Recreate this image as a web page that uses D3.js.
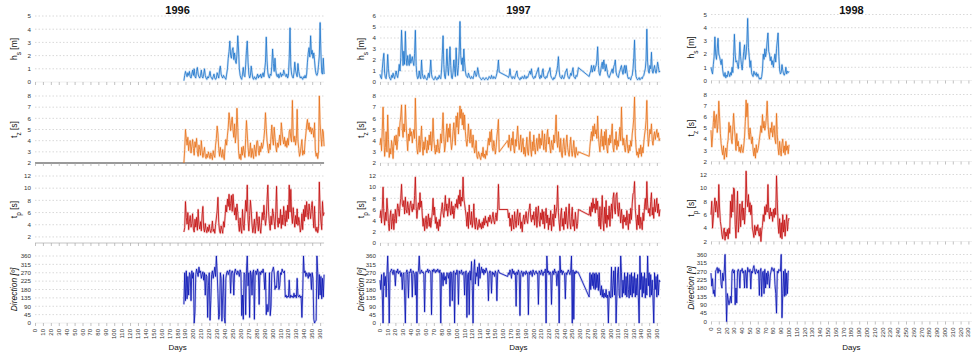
<!DOCTYPE html>
<html><head><meta charset="utf-8">
<script src="https://cdn.jsdelivr.net/npm/d3@7"></script>
<style>body{margin:0;background:#fff;} svg{display:block;font-family:"Liberation Sans",Arial,sans-serif;}</style>
</head><body><svg id="c" width="972" height="360"></svg>
<script>
const N = null;
const years = ["1996","1997","1998"];
const startDays = [188, 0, 0];
const dayTicks = d3.range(0, 361, 10);

const hs1996 = [
0.1,0.5,0.8,0.6,0.4,0.7,0.5,0.8,0.4,0.3,
0.6,0.9,0.5,1.0,0.4,0.3,0.8,1.1,0.6,0.4,
0.3,0.5,0.9,0.4,0.3,0.6,1.0,0.5,0.3,0.2,
0.4,0.3,0.5,0.8,0.4,0.3,0.2,0.4,0.6,0.3,
0.2,0.3,0.7,0.5,0.3,0.9,1.2,0.6,0.4,0.3,
0.5,0.4,0.3,0.2,0.6,1.0,1.8,2.3,3.1,2.0,
1.8,2.4,2.6,1.7,2.2,1.6,1.4,2.1,3.5,2.5,
1.0,0.5,0.3,0.2,0.6,1.1,0.5,0.4,1.3,2.4,
3.1,1.5,0.6,0.3,0.5,1.2,0.7,0.3,0.2,0.4,
0.3,0.2,0.4,0.6,0.3,0.5,0.4,0.6,0.3,0.5,
0.7,0.4,0.9,1.5,3.4,1.6,0.7,0.4,0.3,0.6,
0.5,1.2,2.5,1.4,0.8,1.8,0.9,0.5,0.4,0.6,
0.3,0.5,0.7,0.4,0.6,0.5,0.9,0.7,0.5,0.4,
0.6,0.3,0.5,1.8,4.1,1.2,0.6,0.4,0.3,0.7,
1.5,0.9,0.6,0.4,1.4,0.8,0.5,0.3,0.4,0.3,
0.2,0.4,0.3,0.5,0.3,0.6,1.5,2.2,2.6,1.9,
3.5,2.1,2.4,1.8,2.2,1.6,0.9,0.6,0.5,0.7,
1.3,2.0,4.5,2.2,0.7,0.6,1.8,0.6];
const tz1996 = [
2.0,3.2,5.0,4.2,3.6,4.3,3.1,3.8,4.0,2.9,
3.5,4.1,3.3,2.7,3.9,3.4,4.2,3.0,2.6,3.6,
3.2,2.7,4.0,3.1,2.5,2.9,3.4,2.6,2.4,2.8,
2.5,3.0,2.7,2.4,2.9,2.6,2.3,3.1,2.7,2.5,
3.6,4.2,5.3,4.6,3.3,2.6,3.4,2.8,2.5,3.2,
2.6,2.3,3.5,4.1,3.6,4.5,5.2,6.5,5.8,4.9,
5.6,6.1,5.0,4.3,5.5,3.8,4.6,6.9,5.2,3.1,
2.4,2.8,2.3,3.4,2.7,3.5,3.0,2.5,4.2,5.8,
4.6,3.4,2.6,3.0,3.8,2.5,3.3,2.8,2.4,3.6,
3.2,2.6,3.9,4.0,3.1,2.7,3.5,3.0,3.8,3.3,
3.6,4.2,5.0,6.5,5.1,4.0,3.3,2.9,3.7,3.2,
4.4,5.4,4.1,3.6,5.2,4.3,3.5,3.0,3.8,3.4,
3.9,4.5,3.6,5.6,4.8,4.1,3.7,4.3,3.5,4.0,
3.4,4.2,3.6,4.8,5.0,4.2,3.9,7.6,4.5,3.9,
4.4,3.6,4.2,6.8,4.0,3.3,2.6,2.9,3.5,4.1,
2.7,3.1,2.8,3.9,4.6,5.4,5.9,5.0,5.6,4.8,
5.2,4.6,5.1,4.9,4.3,5.6,3.1,2.6,2.9,2.4,
3.0,8.0,5.5,4.4,3.5,5.0,4.8,3.5];
const tp1996 = [
2.8,3.5,7.8,5.2,4.1,6.0,3.2,4.6,5.5,3.6,
4.2,5.8,3.3,2.8,4.9,3.6,5.2,3.1,6.5,4.0,
3.3,4.5,3.0,5.6,7.0,3.4,2.8,4.2,3.2,2.7,
3.6,2.9,4.0,3.1,2.7,3.4,4.6,2.9,3.3,2.6,
4.0,5.1,6.3,8.5,4.4,3.0,2.6,3.8,3.2,2.6,
4.5,3.6,5.4,7.2,6.1,8.2,7.0,9.0,6.4,7.5,
8.8,6.2,9.0,7.1,5.6,6.8,4.8,7.4,6.0,4.2,
2.9,5.1,3.3,2.6,6.5,4.0,3.1,5.6,8.0,6.2,
10.5,4.8,3.0,5.5,8.0,6.4,4.1,2.7,3.6,4.9,
2.6,3.9,6.1,4.5,3.0,5.3,3.6,2.6,4.4,6.0,
4.8,7.2,5.5,3.9,5.0,8.1,10.5,6.0,4.2,3.1,
5.4,4.0,6.6,5.8,4.5,3.3,6.2,10.3,4.8,3.6,
5.1,4.2,6.5,3.4,5.6,4.0,7.0,5.2,3.8,6.3,
4.5,7.2,5.0,10.5,6.1,9.8,5.6,4.2,6.8,5.0,
3.6,5.5,4.1,6.6,3.9,5.2,4.4,2.8,3.5,5.8,
3.2,6.5,4.6,7.2,5.3,7.8,6.0,4.9,7.4,6.2,
5.0,6.8,7.8,5.4,3.5,7.0,3.3,2.9,3.6,2.7,
3.4,11.0,6.5,4.6,3.2,7.8,5.5,6.0];
const dir1996 = [
100,270,120,280,130,250,150,270,260,120,
280,240,270,0,60,260,290,270,250,300,
270,280,240,260,275,230,270,150,260,250,
30,200,270,15,120,260,280,240,270,300,
250,360,270,160,20,45,270,240,10,150,
260,30,0,240,270,280,260,275,285,160,
270,280,265,150,275,290,270,260,280,270,
250,285,270,40,150,20,270,260,45,280,
360,200,270,30,280,260,150,270,285,20,
270,280,260,290,270,100,275,260,280,270,
290,265,180,270,45,100,60,80,270,40,
90,270,285,300,270,180,200,190,270,280,
180,200,270,260,290,275,270,280,140,150,
135,145,140,230,135,150,140,145,135,160,
140,150,135,240,145,140,150,135,145,30,
160,360,270,280,250,270,260,240,270,250,
265,180,270,240,20,0,10,15,360,270,
130,260,150,250,130,240,140,260];

const hs1997 = [
0.7,0.4,0.3,1.2,2.0,2.6,0.8,0.4,0.3,1.0,
2.5,1.2,0.5,0.3,0.2,0.6,0.4,0.8,0.5,0.3,
0.7,1.0,0.6,0.4,0.9,1.6,1.0,2.2,4.7,3.0,
1.5,2.8,1.6,4.6,2.2,1.5,2.4,1.8,1.5,2.5,
1.7,2.0,2.3,1.8,1.5,2.6,4.7,1.5,0.6,0.3,
0.4,1.0,0.5,0.3,2.0,0.8,0.4,0.3,0.6,0.4,
0.3,0.2,0.5,0.8,0.4,1.0,2.0,0.7,0.4,0.3,
0.2,0.3,0.5,0.3,0.2,0.4,0.3,0.6,0.4,0.3,
1.0,2.5,4.2,1.6,0.5,0.3,1.2,3.0,1.4,0.6,
1.8,3.2,1.5,0.4,0.3,0.9,2.0,1.2,0.5,3.1,
1.3,0.6,1.5,2.8,5.5,2.4,1.6,2.2,1.0,3.0,
1.8,1.0,0.6,0.5,0.4,0.8,0.6,0.4,0.3,0.5,
0.4,0.3,0.6,1.0,0.8,0.5,0.7,1.3,0.9,0.5,
0.4,0.3,0.2,0.3,0.4,0.3,0.2,0.3,0.4,0.3,
0.2,0.3,0.5,0.4,0.3,0.6,0.4,0.3,0.5,0.4,
0.3,0.5,0.8,1.2,2.0,0.9,
N,N,N,N,N,N,N,N,N,N,
0.5,0.4,0.6,1.2,
0.6,0.4,0.3,0.5,0.4,0.3,0.6,0.8,1.0,0.5,
0.4,0.3,0.2,0.4,0.3,0.5,0.4,0.3,0.6,0.4,
0.3,0.5,0.4,0.6,0.8,1.0,0.7,1.2,0.6,0.4,
0.3,0.5,0.4,0.7,0.9,1.1,1.3,0.5,0.3,0.6,
0.4,0.9,1.2,0.5,0.4,0.3,0.5,0.4,0.7,0.9,
1.0,1.3,0.6,0.4,0.3,0.2,0.4,0.3,0.5,0.7,
1.0,1.5,2.3,1.0,0.5,0.4,0.3,0.6,0.4,0.3,
0.5,0.9,1.0,1.2,0.6,0.4,0.3,0.5,0.8,0.6,
1.0,1.3,0.5,0.4,0.3,0.6,0.5,0.8,1.3,
N,N,N,N,N,N,N,N,N,N,N,N,N,
0.5,0.8,1.0,1.5,0.9,1.2,1.5,1.0,
1.3,1.5,2.0,3.2,1.5,0.8,0.6,1.0,1.5,1.8,
1.2,2.0,1.5,1.0,1.6,1.2,0.7,0.5,0.4,0.6,
0.8,1.0,1.2,0.8,1.4,1.6,2.0,0.9,0.6,0.5,
0.4,0.8,1.0,1.3,1.5,1.0,0.7,1.2,1.5,0.8,
1.5,1.0,0.5,0.3,0.4,0.3,0.2,0.5,0.6,1.2,
2.2,3.8,1.2,0.5,0.3,0.2,0.3,0.4,0.2,0.3,
0.4,0.3,0.5,0.6,0.9,1.2,2.0,4.8,1.8,1.0,
0.8,1.5,1.2,2.7,1.0,0.8,1.2,1.5,1.0,0.8,
1.2,1.8,1.4,0.9,1.0];
const tz1997 = [
3.6,4.2,3.1,5.0,7.0,4.5,2.6,3.4,4.8,3.0,
6.3,4.1,2.5,3.3,2.8,4.0,3.5,2.4,3.8,4.4,
3.6,4.5,3.2,4.0,5.2,4.4,5.6,6.2,7.2,5.0,
4.3,5.5,4.8,7.2,5.4,4.2,3.1,4.6,4.0,5.1,
4.4,4.8,3.8,4.5,5.0,4.2,7.8,5.0,3.3,2.8,
3.6,4.4,3.0,4.1,5.3,3.5,2.7,3.9,3.2,4.3,
3.4,2.9,4.0,3.2,4.5,3.6,4.8,3.1,4.0,6.0,
4.2,3.3,2.8,3.6,3.0,4.1,3.4,2.9,3.5,4.6,
3.8,5.0,6.5,4.4,3.0,3.6,4.6,5.5,3.9,5.1,
4.3,5.5,4.0,3.2,3.8,4.8,5.6,4.5,3.6,6.2,
5.2,6.5,4.6,5.8,7.1,6.0,6.8,5.4,6.5,5.0,
6.3,4.8,4.0,3.5,4.2,5.5,4.4,3.8,5.0,4.1,
3.4,4.5,3.6,2.9,3.3,4.0,2.6,2.4,3.0,2.8,
2.5,2.3,2.9,2.6,3.4,2.5,2.8,2.4,3.1,2.7,
3.5,4.2,3.6,4.8,3.9,5.0,3.4,3.1,4.0,3.5,
2.8,3.4,4.4,5.0,5.9,3.0,
N,N,N,N,N,N,N,N,N,N,
4.0,3.4,4.5,3.6,
3.1,4.2,3.6,4.8,3.3,2.9,4.1,3.5,4.4,5.3,
4.0,3.2,3.8,4.5,3.0,3.6,4.2,2.8,3.4,2.6,
3.5,4.3,3.0,2.7,3.8,4.8,3.2,2.6,3.9,3.1,
4.5,3.4,2.8,3.6,4.2,3.1,3.8,4.6,3.3,4.2,
3.6,4.9,4.0,3.2,4.6,3.5,3.0,4.4,5.0,3.7,
4.3,3.4,2.9,4.0,3.6,3.2,4.5,3.8,4.8,6.3,
4.0,3.4,4.8,3.6,3.0,4.2,2.8,2.5,3.5,4.2,
3.2,2.7,3.8,4.5,3.4,2.9,2.6,3.6,4.3,3.1,
2.6,3.3,4.0,2.8,2.5,3.4,2.9,2.7,3.0,
N,N,N,N,N,N,N,N,N,N,N,N,N,
2.6,3.5,4.2,4.8,4.0,5.3,4.4,5.5,
4.6,5.0,4.2,6.2,4.5,3.6,3.0,4.2,5.0,3.5,
4.4,3.2,4.8,3.6,5.0,3.3,2.9,4.2,3.6,4.5,
3.8,4.6,5.5,3.4,3.0,4.1,3.6,4.8,3.2,4.0,
3.5,4.4,5.2,4.0,7.0,4.5,3.6,4.2,3.4,3.0,
3.8,4.5,3.3,2.9,3.6,3.1,4.0,3.5,4.6,5.2,
6.0,7.9,4.5,3.4,2.7,3.0,2.5,3.3,2.8,3.6,
2.6,3.4,2.9,3.8,4.5,5.0,5.8,7.6,4.8,3.5,
4.2,5.0,4.6,5.5,4.0,3.6,4.4,4.8,4.1,4.6,
5.0,4.3,4.7,4.0,4.2];
const tp1997 = [
4.5,5.8,3.6,6.2,10.0,5.0,3.2,5.5,4.0,8.0,
6.0,3.5,2.2,4.6,5.8,2.5,3.8,5.2,2.4,4.4,
6.0,3.6,5.4,7.0,6.2,4.8,6.6,8.0,10.5,7.0,
6.5,7.6,5.2,8.2,6.0,5.4,7.4,6.3,5.0,6.8,
7.5,6.2,5.6,7.0,6.0,8.5,11.8,6.5,4.4,6.0,
7.2,6.0,9.0,6.4,7.5,5.0,3.0,4.4,2.2,3.6,
4.8,2.6,3.9,5.2,3.0,4.5,2.8,4.0,5.5,8.0,
5.0,6.4,3.5,4.6,2.6,3.8,2.2,4.2,3.0,5.0,
6.0,7.2,5.4,4.6,6.5,8.5,5.8,7.0,4.8,6.2,
8.0,6.0,5.0,7.4,5.2,6.6,4.4,5.8,7.0,6.4,
7.8,6.2,8.5,7.0,9.5,6.6,8.2,7.5,11.8,8.0,
7.0,6.0,4.8,3.0,5.5,2.6,6.8,4.2,3.3,5.6,
2.8,4.0,7.0,3.4,2.5,4.5,3.6,2.4,3.0,4.2,
2.8,3.5,2.5,3.8,2.7,4.4,3.2,4.8,3.6,4.0,
3.0,4.6,3.8,5.0,4.2,3.5,4.6,5.5,4.0,3.4,
4.6,5.4,4.0,6.0,10.5,6.0,
N,N,N,N,N,N,N,N,N,N,
6.0,4.5,5.4,3.0,
4.4,2.2,5.0,3.6,2.5,5.6,4.0,2.8,4.8,6.0,
3.2,4.6,5.4,2.6,3.8,2.0,4.2,5.0,3.4,4.4,
5.6,4.0,3.5,5.2,6.0,7.0,4.6,3.8,5.0,4.2,
5.6,3.2,4.6,6.4,2.8,5.0,6.6,4.0,3.0,5.4,
4.2,6.0,3.4,5.6,2.6,4.8,6.2,3.6,5.0,2.4,
4.5,3.2,5.8,2.2,4.0,5.2,3.0,6.8,4.5,5.5,
6.5,10.3,5.4,3.6,2.2,5.0,6.2,3.0,4.4,2.4,
5.6,3.4,6.4,4.0,2.6,5.2,7.0,3.6,2.5,4.8,
6.4,3.0,4.2,2.2,5.5,4.0,2.6,3.5,6.0,
N,N,N,N,N,N,N,N,N,N,N,N,N,
5.0,6.5,4.8,7.2,5.6,8.0,6.2,7.0,
5.4,8.0,6.0,7.5,4.6,3.0,6.5,2.5,5.0,8.5,
4.0,2.2,6.4,3.5,7.6,2.8,5.0,4.2,6.6,3.0,
5.6,7.0,4.4,8.0,9.0,6.0,5.2,8.6,9.0,6.0,
4.8,7.2,5.6,3.6,6.0,4.4,2.6,5.0,3.8,4.6,
3.2,5.8,4.0,2.4,5.2,3.5,6.2,4.2,7.0,8.8,
9.0,11.0,6.0,4.4,2.4,5.0,3.2,6.8,2.6,4.6,
3.6,2.4,5.4,4.0,6.6,8.0,6.0,11.0,7.0,5.4,
6.2,4.8,7.4,9.0,5.0,6.4,4.4,7.8,5.6,6.6,
8.0,5.4,7.0,4.8,6.0];
const dir1997 = [
230,180,260,150,0,270,200,250,140,260,
360,220,0,270,280,290,275,260,285,270,
200,280,270,290,265,275,280,250,270,180,
260,270,150,0,270,285,260,135,275,270,
290,265,140,280,270,260,150,275,0,270,
280,360,265,270,285,270,275,260,60,270,
280,275,290,270,285,280,270,45,285,275,
290,280,270,285,275,290,280,270,285,0,
270,260,200,270,230,250,210,270,260,240,
270,90,275,265,120,270,280,0,270,260,
285,270,100,280,265,270,285,260,270,275,
150,270,280,30,260,270,45,280,230,330,
200,0,280,340,210,270,250,300,200,320,
240,280,300,270,290,260,285,270,295,280,
270,120,265,280,270,160,275,260,270,250,
280,265,120,270,285,270,
N,N,N,N,N,N,N,N,N,N,
250,270,260,285,
270,240,290,265,280,260,270,90,275,260,
285,270,40,260,280,270,250,275,270,260,
280,265,270,45,275,260,280,270,250,285,
270,260,275,280,265,270,100,280,270,260,
285,270,255,275,270,290,0,360,270,280,
260,275,270,100,265,280,260,290,270,275,
200,265,280,0,360,270,285,260,280,270,
265,130,270,260,275,285,270,260,280,360,
0,285,20,275,265,280,270,275,270,
N,N,N,N,N,N,N,N,N,N,N,N,N,
140,270,180,260,200,270,185,265,
180,270,190,260,175,270,185,150,200,140,
180,135,160,140,180,135,150,0,170,140,
135,300,140,200,280,150,300,0,140,270,
300,150,135,360,270,140,230,160,270,150,
250,140,270,180,135,260,150,270,140,250,
160,270,140,240,150,260,135,0,360,180,
270,140,250,160,270,135,240,150,360,200,
270,140,260,150,230,135,0,270,180,250,
140,260,150,230,220];

const hs1998 = [
1.0,0.7,0.5,1.2,1.8,3.3,2.0,1.6,2.4,3.2,
2.0,1.8,1.5,1.2,1.6,0.8,0.4,0.3,0.6,0.2,
0.4,0.3,0.7,0.5,0.3,0.6,0.4,1.0,0.6,1.8,
3.5,2.0,1.4,1.5,1.2,0.9,1.6,2.9,1.8,1.2,
0.8,1.5,2.2,2.7,1.6,2.0,2.8,4.7,2.5,1.8,
1.0,1.5,0.6,0.4,0.3,0.7,0.5,0.4,0.6,0.3,
0.5,0.3,0.1,0.2,0.1,0.3,0.8,2.0,1.6,2.4,
1.8,2.2,3.0,3.6,2.2,2.0,1.5,1.8,1.2,1.5,
1.0,1.6,2.0,1.4,2.4,3.0,3.6,1.8,0.8,0.5,
0.6,1.2,0.8,0.5,0.4,0.6,1.0,0.5,0.7,0.6,
0.7];
const tz1998 = [
4.8,3.3,4.2,5.5,6.5,5.0,5.8,6.2,4.6,5.4,
7.4,6.0,4.5,3.6,3.0,2.6,3.4,2.2,2.8,3.2,
2.4,3.5,4.0,5.5,4.6,5.2,4.0,3.6,5.0,6.3,
5.0,4.2,3.0,4.5,3.4,3.8,2.9,3.3,2.8,3.5,
3.0,2.8,3.4,4.2,5.6,7.5,6.0,7.2,4.6,4.0,
5.0,4.4,3.6,4.2,3.0,2.5,3.2,2.3,3.5,2.8,
3.0,3.4,4.0,4.5,5.2,4.6,6.2,5.0,5.6,4.8,
5.2,6.0,7.4,5.5,4.4,4.0,5.0,4.6,5.5,4.2,
4.8,5.2,4.0,3.6,6.3,4.4,3.2,2.6,3.8,3.0,
2.5,3.6,4.0,2.8,3.4,2.6,3.8,3.0,3.4,2.7,
3.5];
const tp1998 = [
6.0,8.0,4.0,5.5,7.2,8.5,6.4,8.0,7.0,5.6,
10.5,7.0,5.0,4.2,3.0,2.4,3.6,4.0,2.2,3.4,
2.8,3.8,2.4,4.0,3.2,8.0,5.6,9.0,6.4,10.0,
9.8,4.5,2.5,6.0,9.5,3.4,5.0,7.6,4.2,6.4,
8.0,5.2,7.0,4.6,6.6,12.5,8.4,7.2,9.0,6.4,
7.8,6.0,7.4,4.0,3.4,2.6,4.4,3.0,4.2,3.6,
4.5,3.2,2.8,4.0,2.0,3.6,4.4,6.0,5.0,7.2,
6.0,7.5,6.4,10.5,6.6,5.4,7.0,5.8,6.4,5.0,
6.8,5.6,7.0,6.0,11.8,8.0,4.6,3.2,5.4,2.6,
4.8,2.4,6.0,3.4,5.2,2.8,4.6,6.0,3.6,5.0,
5.5];
const dir1998 = [
260,190,230,150,170,135,270,280,290,260,
285,270,275,200,180,260,220,270,360,190,
0,150,120,90,110,135,100,270,280,260,
275,90,180,100,270,280,265,180,275,270,
285,260,270,180,275,260,180,290,270,265,
280,175,270,260,285,300,270,255,280,270,
260,275,140,270,285,135,265,270,150,280,
180,260,200,270,240,180,250,270,290,280,
270,285,200,150,45,270,260,280,275,270,
360,20,150,270,135,280,140,260,150,270,
270];

const hsTicks = [[0,1,2,3,4,5],[0,1,2,3,4,5,6],[0,1,2,3,4,5]];
const tzTicks = [2,3,4,5,6,7,8];
const tpTicks = [[2,4,6,8,10,12],[0,2,4,6,8,10,12],[2,4,6,8,10,12]];
const dirTicks = [0,45,90,135,180,225,270,315,360];

// ---------- layout (not data) ----------
const colGeo = [
  {x0:35, k:0.792, dy:0, lab:17},
  {x0:380, k:0.769, dy:0, lab:364},
  {x0:711, k:0.78, dy:-1.5, lab:694}
];
const rowGeo = [{top:16,bot:82},{top:96,bot:163},{top:176,bot:243},{top:256,bot:323}];
const colors = ["#1f77cc","#e8731c","#c41010","#0a14b4"];
const seriesByCol = [
  [hs1996,tz1996,tp1996,dir1996],
  [hs1997,tz1997,tp1997,dir1997],
  [hs1998,tz1998,tp1998,dir1998]
];
const domains = [
  [[0,5],[2,8],[1,12],[0,360]],
  [[0,6],[2,8],[0,12],[0,360]],
  [[0,5],[2,8],[2,12],[0,360]]
];
const tickSets = [
  [hsTicks[0],tzTicks,tpTicks[0],dirTicks],
  [hsTicks[1],tzTicks,tpTicks[1],dirTicks],
  [hsTicks[2],tzTicks,tpTicks[2],dirTicks]
];
const ylabels = [
  [["h",""],["s","sub"],[" [m]",""]],
  [["t",""],["z","sub"],[" [s]",""]],
  [["t",""],["p","sub"],[" [s]",""]],
  [["Direction [º]","it"]]
];

const svg = d3.select("#c");
const W = 972;

colGeo.forEach((cg, ci) => {
  const x = d3.scaleLinear().domain([0,365]).range([cg.x0, cg.x0 + 365*cg.k]);
  const [xa, xb] = x.range();
  const g = svg.append("g");
  g.append("text").attr("x", x(180)).attr("y", 14).attr("text-anchor","middle")
    .attr("font-size", 11).attr("font-weight","bold").attr("fill","#111").text(years[ci]);

  rowGeo.forEach((rg, ri) => {
    const y = d3.scaleLinear().domain(domains[ci][ri]).range([rg.bot+cg.dy, rg.top+cg.dy]);
    const ticks = tickSets[ci][ri];
    const p = g.append("g");
    p.selectAll("line.grid").data(ticks.filter(t => t > domains[ci][ri][0])).join("line")
      .attr("x1", xa).attr("x2", xb).attr("y1", d => y(d)).attr("y2", d => y(d))
      .attr("stroke","#c9c9c9").attr("stroke-width",0.7).attr("stroke-dasharray","1.5,2");
    p.selectAll("text.yt").data(ticks).join("text")
      .attr("x", xa - 4).attr("y", d => y(d) + 2.3).attr("text-anchor","end")
      .attr("font-size", 6.2).attr("fill","#333").text(d => d);
    const yb = y(domains[ci][ri][0]);
    if (ci === 0 && ri === 1) {
      p.append("line").attr("x1",xa).attr("x2",xb).attr("y1",yb).attr("y2",yb).attr("stroke","#9a9a9a").attr("stroke-width",2);
    } else if (ci === 0 && ri === 2) {
      p.append("line").attr("x1",xa).attr("x2",xb).attr("y1",yb).attr("y2",yb).attr("stroke","#c4c4c4").attr("stroke-width",1);
    } else {
      p.append("line").attr("x1",xa).attr("x2",xb).attr("y1",yb).attr("y2",yb).attr("stroke","#ececec").attr("stroke-width",0.8);
    }
    const ax = d3.axisBottom(x).tickValues(dayTicks).tickSize(3).tickFormat("");
    const axg = p.append("g").attr("transform", `translate(0,${yb})`).call(ax);
    axg.select(".domain").remove();
    axg.selectAll(".tick line").attr("stroke","#a8a8a8").attr("stroke-width",0.7);
    if (ri === 3) {
      p.selectAll("text.xt").data(dayTicks.filter(d => x(d) + 3 < W)).join("text")
        .attr("transform", d => `translate(${x(d)+2},${yb+6}) rotate(-90)`)
        .attr("text-anchor","end").attr("font-size",6).attr("fill","#333").text(d => d);
      p.append("text").attr("x", x(180)).attr("y", 350).attr("text-anchor","middle")
        .attr("font-size", 8).attr("fill","#111").text("Days");
    }
    const t = p.append("text").attr("transform", `translate(${cg.lab},${(rg.top+rg.bot)/2+cg.dy}) rotate(-90)`)
      .attr("text-anchor","middle").attr("font-size", 8.5).attr("fill","#111");
    ylabels[ri].forEach(([s, kind]) => {
      const ts = t.append("tspan").text(s);
      if (kind === "sub") ts.attr("baseline-shift","sub").attr("font-size",6.5);
      if (kind === "it") ts.attr("font-style","italic");
    });
    const vals = seriesByCol[ci][ri];
    const pts = vals.map((v, i) => ({d: startDays[ci] + i, v})).filter(o => o.v !== null);
    const line = d3.line().x(o => x(o.d)).y(o => y(o.v));
    p.append("path").datum(pts).attr("d", line).attr("fill","none")
      .attr("stroke", colors[ri]).attr("stroke-width", 2.2).attr("stroke-linejoin","round").attr("opacity",0.22);
    p.append("path").datum(pts).attr("d", line).attr("fill","none")
      .attr("stroke", colors[ri]).attr("stroke-width", 0.9).attr("stroke-linejoin","round").attr("opacity",0.92);
  });
});
</script>
</body></html>
